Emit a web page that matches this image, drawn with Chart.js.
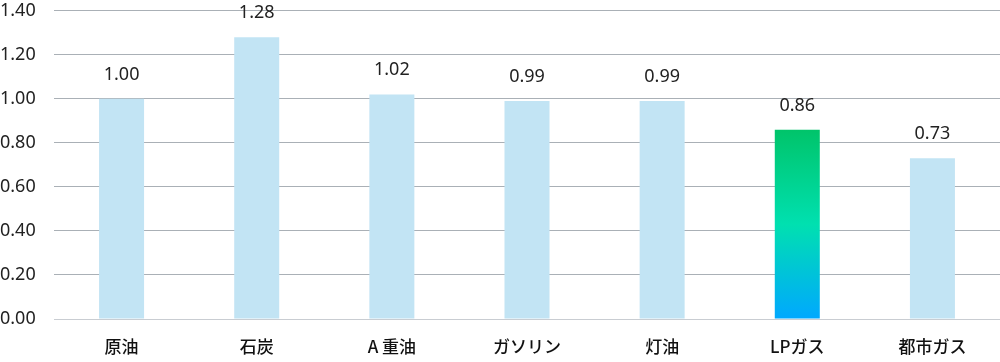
<!DOCTYPE html>
<html>
<head>
<meta charset="utf-8">
<script src="https://cdn.jsdelivr.net/npm/chart.js@4"></script>
<style>
  html, body { margin: 0; padding: 0; background: #fff; }
  #wrap { width: 1000px; height: 362px; }
</style>
</head>
<body>
<div id="wrap"><canvas id="fuelChart"></canvas></div>
<script>
const categories = ["原油", "石炭", "A 重油", "ガソリン", "灯油", "LPガス", "都市ガス"];
const values = [1.00, 1.28, 1.02, 0.99, 0.99, 0.86, 0.73];
const yTicks = [0, 0.2, 0.4, 0.6, 0.8, 1.0, 1.2, 1.4];
const highlight = "LPガス";

const FONT = "'Noto Sans CJK JP', 'Noto Sans', sans-serif";
const NUM_FONT = "'Noto Sans', 'Noto Sans CJK JP', sans-serif";

// value labels above each bar
const valueLabels = {
    id: "valueLabels",
    afterDatasetsDraw(chart) {
        const ctx = chart.ctx;
        const meta = chart.getDatasetMeta(0);
        ctx.save();
        ctx.font = "18px " + NUM_FONT;
        ctx.fillStyle = "#222";
        ctx.textAlign = "center";
        ctx.textBaseline = "alphabetic";
        meta.data.forEach((bar, i) => {
            ctx.fillText(values[i].toFixed(2), bar.x, bar.y - 19);
        });
        ctx.restore();
    }
};

function barColor(c) {
    if (categories[c.dataIndex] !== highlight) return "#c2e4f4";
    const chart = c.chart;
    if (!chart.chartArea) return "#00e0b0";
    const y = chart.scales.y;
    const top = y.getPixelForValue(values[c.dataIndex]);
    const bottom = y.getPixelForValue(0);
    const g = chart.ctx.createLinearGradient(0, top, 0, bottom);
    g.addColorStop(0, "#00c46a");
    g.addColorStop(0.5, "#00e0b0");
    g.addColorStop(1, "#00a8ff");
    return g;
}

new Chart(document.getElementById("fuelChart"), {
    type: "bar",
    data: {
        labels: categories,
        datasets: [{
            data: values,
            backgroundColor: barColor,
            borderWidth: 0,
            categoryPercentage: 1,
            barPercentage: 0.333
        }]
    },
    options: {
        responsive: true,
        maintainAspectRatio: false,
        animation: false,
        layout: { padding: { top: 0, right: 0, left: 0, bottom: 0 } },
        plugins: {
            legend: { display: false },
            tooltip: { enabled: false }
        },
        scales: {
            x: {
                grid: { display: false, drawTicks: false },
                border: { display: false },
                ticks: {
                    color: "#111",
                    padding: 17,
                    font: { family: FONT, size: 17, weight: 500 }
                },
                afterFit(scale) { scale.height = 43; }
            },
            y: {
                min: 0,
                max: 1.4,
                afterBuildTicks(scale) {
                    scale.ticks = yTicks.map(v => ({ value: v }));
                },
                grid: {
                    drawTicks: false,
                    color: c => c.tick && c.tick.value === 0 ? "#c9cdd2" : "#aab0b6",
                    lineWidth: 1
                },
                border: { display: false },
                ticks: {
                    color: "#222",
                    padding: 0,
                    crossAlign: "far",
                    font: { family: NUM_FONT, size: 18 },
                    callback: v => Number(v).toFixed(2)
                },
                afterFit(scale) { scale.width = 54; }
            }
        }
    },
    plugins: [valueLabels]
});
</script>
</body>
</html>
